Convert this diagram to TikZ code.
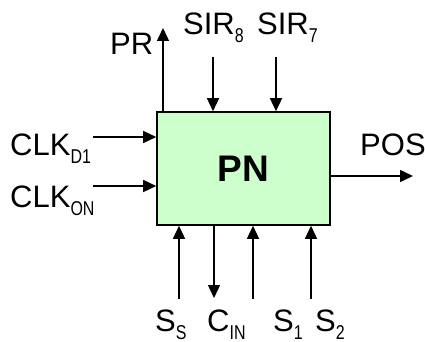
\documentclass[tikz,border=0pt]{standalone}
\usepackage{fontspec}
\setmainfont{Liberation Sans}
\usepackage{graphicx}
\usetikzlibrary{positioning,arrows.meta}
\definecolor{blockfill}{HTML}{CCFFCC}
\newcommand\lsub[1]{\raisebox{-8pt}{\scalebox{0.8}[1]{\fontsize{20}{20}\selectfont #1}}}
\tikzset{
  block/.style={draw, line width=1.6pt, fill=blockfill, minimum width=173pt, minimum height=113pt, inner sep=0pt, font=\fontsize{37}{37}\selectfont\bfseries},
  arrow/.style={-{Triangle[length=13pt,width=12pt]}, line width=1.5pt},
  sig/.style={anchor=base west, inner sep=0pt, font=\fontsize{31}{31}\selectfont}
}
\begin{document}
\begin{tikzpicture}[x=1pt,y=-1pt]
  \useasboundingbox (0,0) rectangle (425,342);
  \node[block] (pn) at (243.5,168.5) {PN};
  % signal names
  \node[sig] (clkd) at (10,155) {CLK\lsub{D1}};
  \node[sig] (clko) at (10,207) {CLK\lsub{ON}};
  \node[sig] (pr) at (110,55) {PR};
  \node[sig] (sir8) at (183,35) {SIR\lsub{8}};
  \node[sig] (sir7) at (257,35) {SIR\lsub{7}};
  \node[sig] (pos) at (360,155) {POS};
  \node[sig] (ss) at (155,331) {S\lsub{S}};
  \node[sig] (cin) at (207,331) {C\lsub{IN}};
  \node[sig] (s1) at (273,331) {S\lsub{1}};
  \node[sig] (s2) at (315,331) {S\lsub{2}};
  % free ends of the lines
  \coordinate (prtip) at (163,28);
  \coordinate (sir8tail) at (213,57);
  \coordinate (sir7tail) at (276,57);
  \coordinate (clkdtail) at (93,137);
  \coordinate (clkotail) at (93,186);
  \coordinate (postip) at (413,176);
  \coordinate (sstail) at (179,299);
  \coordinate (cintip) at (214,298);
  \coordinate (s1tail) at (253,299);
  \coordinate (s2tail) at (311,299);
  \draw[arrow] (prtip |- pn.north) -- (prtip);
  \draw[arrow] (sir8tail) -- (sir8tail |- pn.north);
  \draw[arrow] (sir7tail) -- (sir7tail |- pn.north);
  \draw[arrow] (clkdtail) -- (clkdtail -| pn.west);
  \draw[arrow] (clkotail) -- (clkotail -| pn.west);
  \draw[arrow] (postip -| pn.east) -- (postip);
  \draw[arrow] (sstail) -- (sstail |- pn.south);
  \draw[arrow] (cintip |- pn.south) -- (cintip);
  \draw[arrow] (s1tail) -- (s1tail |- pn.south);
  \draw[arrow] (s2tail) -- (s2tail |- pn.south);
\end{tikzpicture}
\end{document}
